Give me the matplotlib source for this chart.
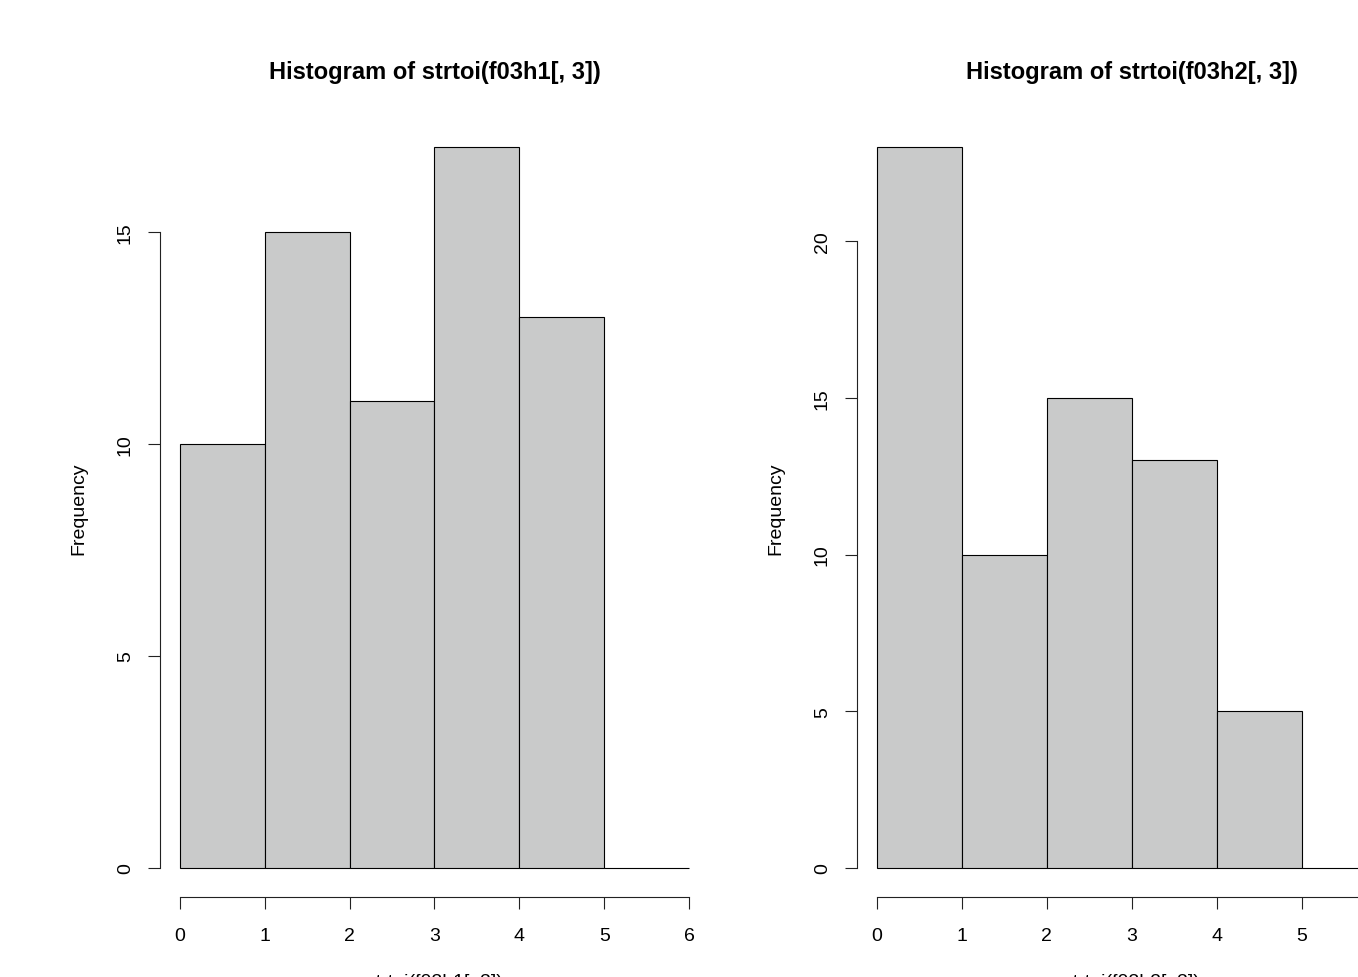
import matplotlib
matplotlib.use("Agg")
import matplotlib.pyplot as plt

plt.rcParams['font.family'] = ['Liberation Sans', 'DejaVu Sans']

bin_edges = [0, 1, 2, 3, 4, 5, 6]
counts_h1 = [10, 15, 11, 17, 13, 0]
counts_h2 = [23, 10, 15, 13, 5, 0]
titles = ["Histogram of strtoi(f03h1[, 3])", "Histogram of strtoi(f03h2[, 3])"]
xlabels = ["strtoi(f03h1[, 3])", "strtoi(f03h2[, 3])"]
yticks_h1 = [0, 5, 10, 15]
yticks_h2 = [0, 5, 10, 15, 20]
xticks = [0, 1, 2, 3, 4, 5, 6]

W, H = 1358, 978
fig = plt.figure(figsize=(W / 100, H / 100), dpi=100)

panels = [
    (159.6, 709.4, counts_h1, yticks_h1, titles[0], xlabels[0]),
    (856.6, 1407.0, counts_h2, yticks_h2, titles[1], xlabels[1]),
]
top_px, bot_px = 119.2, 897.8

for left_px, right_px, counts, yt, title, xl in panels:
    ax = fig.add_axes([left_px / W, 1 - bot_px / H, (right_px - left_px) / W, (bot_px - top_px) / H])
    lefts = bin_edges[:-1]
    widths = [bin_edges[i + 1] - bin_edges[i] for i in range(len(lefts))]
    ax.bar(lefts, counts, width=widths, align='edge', color='#C9CACA',
           edgecolor='black', linewidth=0.8)
    xr = bin_edges[-1] - bin_edges[0]
    ymax = max(counts)
    ax.set_xlim(bin_edges[0] - 0.04 * xr, bin_edges[-1] + 0.04 * xr)
    ax.set_ylim(-0.04 * ymax, ymax * 1.04)
    for s in ['top', 'right']:
        ax.spines[s].set_visible(False)
    ax.spines['left'].set_bounds(yt[0], yt[-1])
    ax.spines['bottom'].set_bounds(xticks[0], xticks[-1])
    for s in ['left', 'bottom']:
        ax.spines[s].set_linewidth(0.8)
        ax.spines[s].set_color('#222222')
    ax.set_xticks(xticks)
    ax.set_yticks(yt)
    ax.set_yticklabels([str(v) for v in yt], rotation=90, va='center')
    ax.tick_params(axis='both', direction='out', length=8.6, width=0.8,
                   labelsize=14, color='#222222')
    ax.tick_params(axis='x', pad=13)
    ax.tick_params(axis='y', pad=10)
    ax.set_ylabel("Frequency", fontsize=14, labelpad=21)
    cx = (left_px + right_px) / 2 / W
    fig.text(cx, 1 - 73 / H, title, ha='center', va='center', fontsize=17, fontweight='bold')
    fig.text(cx, 1 - 983 / H, xl, ha='center', va='center', fontsize=14)

fig.savefig("out.png", dpi=100)
